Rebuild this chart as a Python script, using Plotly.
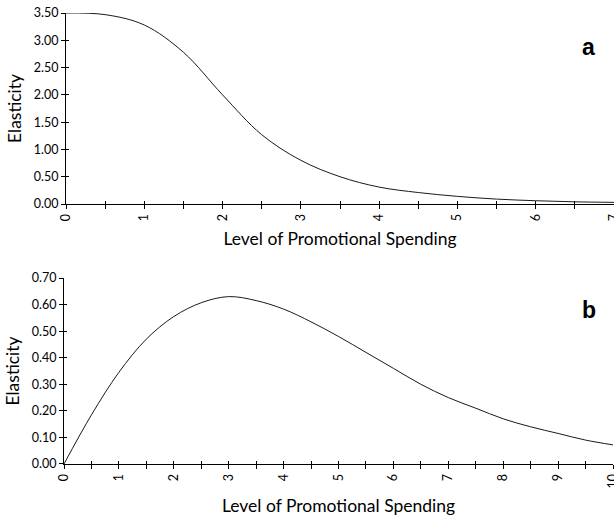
import plotly.graph_objects as go

# Panel a: elasticity vs level of promotional spending
spend_a = [0, 0.5, 1.0, 1.5, 2.0, 2.5, 3.0, 3.5, 4.0, 4.5, 5.0, 5.5, 6.0, 6.5, 7.0]
elast_a = [3.50, 3.47, 3.28, 2.78, 2.00, 1.27, 0.80, 0.50, 0.31, 0.21, 0.14, 0.09, 0.06, 0.04, 0.03]

# Panel b
spend_b = [0, 0.5, 1.0, 1.5, 2.0, 2.5, 3.0, 3.5, 4.0, 4.5, 5.0, 5.5, 6.0, 6.5, 7.0, 7.5, 8.0, 8.5, 9.0, 9.5, 10.0]
elast_b = [0.0, 0.185, 0.345, 0.47, 0.555, 0.607, 0.630, 0.615, 0.583, 0.535, 0.48, 0.42, 0.36, 0.30, 0.25, 0.21, 0.17, 0.14, 0.115, 0.09, 0.072]

xticks_a = [0, 1, 2, 3, 4, 5, 6, 7]
xticks_b = [0, 1, 2, 3, 4, 5, 6, 7, 8, 9, 10]

FONT = "Lato"
line_style = dict(color="#1a1a1a", width=1, shape="spline", smoothing=1)

fig = go.Figure()
fig.add_trace(go.Scatter(x=spend_a, y=elast_a, mode="lines", line=line_style,
                         xaxis="x", yaxis="y", showlegend=False, hoverinfo="skip"))
fig.add_trace(go.Scatter(x=spend_b, y=elast_b, mode="lines", line=line_style,
                         xaxis="x2", yaxis="y2", showlegend=False, hoverinfo="skip"))
# empty traces so the inside-tick overlay axes get drawn
fig.add_trace(go.Scatter(x=[], y=[], xaxis="x3", yaxis="y3", showlegend=False, hoverinfo="skip"))
fig.add_trace(go.Scatter(x=[], y=[], xaxis="x4", yaxis="y4", showlegend=False, hoverinfo="skip"))

common = dict(showline=True, linecolor="black", linewidth=1, ticks="outside", ticklen=4,
              tickcolor="black", tickwidth=1, showgrid=False, zeroline=False,
              ticklabeloverflow="allow", automargin=False,
              tickfont=dict(family=FONT, size=12.5, color="black"))
inside = dict(showline=False, ticks="inside", ticklen=3, tickcolor="black", tickwidth=1,
              showgrid=False, zeroline=False, showticklabels=False, automargin=False)

title_font = dict(family=FONT, size=17.5, color="black")
XD_A = [2/550, 1]
XD_B = [0, 549/550]
YD_A = [0.5765, 1]
YD_B = [0, 0.4124]

fig.update_layout(
    width=614, height=517,
    margin=dict(l=64, r=0, t=13, b=53),
    paper_bgcolor="white", plot_bgcolor="white",
    xaxis=dict(domain=XD_A, anchor="y", range=[0, 7], tickvals=xticks_a,
               ticktext=[str(v) for v in xticks_a], tickangle=-90,
               minor=dict(dtick=0.5, ticks="outside", ticklen=4, tickcolor="black"),
               title=dict(text="Level of Promotional Spending", font=title_font, standoff=12),
               **common),
    yaxis=dict(domain=YD_A, anchor="x", range=[0, 3.5], dtick=0.5, tickformat=".2f",
               title=dict(text="Elasticity", font=title_font, standoff=7), **common),
    xaxis2=dict(domain=XD_B, anchor="y2", range=[0, 10], tickvals=xticks_b,
                ticktext=[str(v) for v in xticks_b], tickangle=-90,
                minor=dict(dtick=0.5, ticks="outside", ticklen=4, tickcolor="black"),
                title=dict(text="Level of Promotional Spending", font=title_font, standoff=12),
                **common),
    yaxis2=dict(domain=YD_B, anchor="x2", range=[0, 0.7], dtick=0.1, tickformat=".2f",
                title=dict(text="Elasticity", font=title_font, standoff=7), **common),
    xaxis3=dict(overlaying="x", anchor="y", range=[0, 7], tick0=0, dtick=0.5, **inside),
    yaxis3=dict(overlaying="y", anchor="x", range=[0, 3.5], tick0=0, dtick=0.5, **inside),
    xaxis4=dict(overlaying="x2", anchor="y2", range=[0, 10], tick0=0, dtick=0.5, **inside),
    yaxis4=dict(overlaying="y2", anchor="x2", range=[0, 0.7], tick0=0, dtick=0.1, **inside),
    annotations=[
        dict(text="<b>a</b>", x=0.9545, y=0.9246, xref="paper", yref="paper", showarrow=False,
             xanchor="center", yanchor="middle",
             font=dict(family="Liberation Sans", size=23, color="black")),
        dict(text="<b>b</b>", x=0.9545, y=0.3415, xref="paper", yref="paper", showarrow=False,
             xanchor="center", yanchor="middle",
             font=dict(family="Liberation Sans", size=23, color="black")),
    ],
)

fig.write_html("out.html", config={"displayModeBar": False},
               post_script="document.body.style.margin='0';")
